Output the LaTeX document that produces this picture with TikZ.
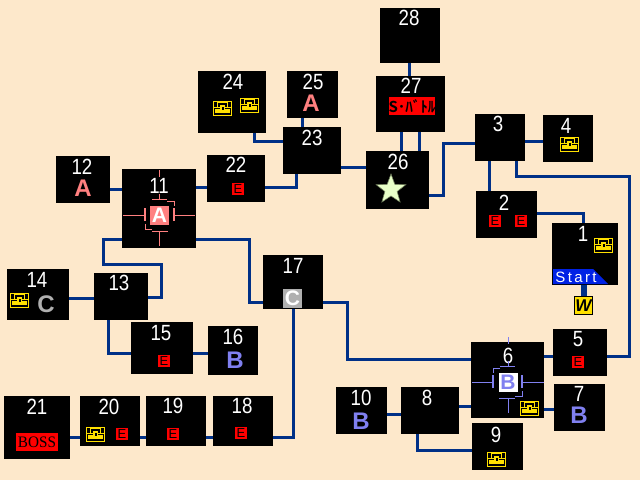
\documentclass[tikz,border=0pt]{standalone}
\usepackage{fontspec}
\usetikzlibrary{shapes.geometric}
\setmainfont{Liberation Sans}
\newfontfamily\numf[FakeStretch=0.85]{Liberation Sans}
\newfontfamily\startf[LetterSpace=16]{Liberation Sans}
\newfontfamily\bossf[FakeStretch=0.95]{Liberation Serif}
\newfontfamily\cjkf{Noto Sans CJK JP Bold}
\definecolor{bg}{HTML}{FDE8CB}
\definecolor{link}{HTML}{003087}
\definecolor{chesty}{HTML}{FFE000}
\definecolor{pinkA}{HTML}{FF8080}
\definecolor{blueB}{HTML}{8080F0}
\definecolor{grayC}{HTML}{B0B0B0}
\definecolor{redE}{HTML}{FF0000}
\tikzset{
  room/.style={fill=black,inner sep=0pt,outer sep=0pt},
  numlabel/.style={text=white,inner sep=0pt,font=\numf\fontsize{22}{22}\selectfont},
  conn/.style={draw=link,line width=3.6pt,line cap=butt,line join=miter},
  eicon/.style={fill=redE,text=black,inner sep=0pt,minimum size=12pt,font=\fontsize{13}{13}\selectfont},
  letter/.style={inner sep=0pt,font=\bfseries\fontsize{24}{24}\selectfont},
  decor/.style={line width=1pt},
  decorbar/.style={line width=2pt},
  bossicon/.style={minimum size=19pt,inner sep=0pt,font=\bfseries\fontsize{21}{21}\selectfont},
}
\newcommand{\room}[5]{% name x0 y0 x1 y1
  \pgfmathsetmacro{\cxv}{(#2+#4)/2}\pgfmathsetmacro{\cyv}{(#3+#5)/2}
  \pgfmathsetmacro{\wv}{#4-#2}\pgfmathsetmacro{\hv}{#5-#3}
  \node[room,minimum width=\wv pt,minimum height=\hv pt] (#1) at (\cxv,\cyv) {};
}
\newcommand{\chest}[2]{% x y
  \begin{scope}[shift={(#1+0.5,#2+0.5)}]
    \fill[chesty] (-9.5,-7.5) rectangle (9.5,7.5);
    \fill[black] (-8.5,-6.5) rectangle (8.5,6.5);
    \fill[chesty] (-5.5,-6.5) rectangle (-4.5,-0.5);
    \fill[chesty] (4.5,-6.5) rectangle (5.5,-0.5);
    \fill[chesty] (-4.5,-6.5) rectangle (4.5,-5.5);
    \fill[chesty] (-8.5,-1.5) rectangle (8.5,-0.5);
    \fill[chesty] (-2.5,-3.5) rectangle (2.5,1.5);
    \fill[black] (-1,-2) rectangle (1,0);
    \fill[chesty] (-7.5,0.5) rectangle (7.5,4.5);
    \fill[chesty] (-2.5,0.5) rectangle (2.5,1.5);
    \fill[black] (-1,0.5) rectangle (1,1);
  \end{scope}
}
\newcommand{\bossdecor}[4]{% x y colour xflip
  \begin{scope}[shift={(#1,#2)},xscale=#4]
    \draw[#3,decor] (0,-45) -- (0,-38) (0,-21) -- (0,-16) (-7,-15.5) -- (8,-15.5);
    \draw[#3,decor] (-36,0) -- (-14,0) (15,0) -- (36,0);
    \draw[#3,decorbar] (-14,-7) -- (-14,6) (15,-7) -- (15,6);
    \draw[#3,decor] (-7,16) -- (9,16) (0,16) -- (0,31);
    \draw[#3,decor] (8,-14) -- (15,-14) -- (15,-9) (-14,9) -- (-14,14) -- (-7,14);
  \end{scope}
}
\begin{document}
\begin{tikzpicture}[x=1pt,y=-1pt]
\useasboundingbox (0,0) rectangle (640,480);
\fill[bg] (0,0) rectangle (640,480);

% rooms
\room{r1}{552}{223}{618}{285}
\room{r2}{476}{191}{537}{238}
\room{r3}{475}{114}{525}{161}
\room{r4}{543}{115}{593}{162}
\room{r5}{553}{329}{607}{376}
\room{r6}{471}{342}{544}{418}
\room{r7}{554}{384}{605}{431}
\room{r8}{401}{387}{459}{434}
\room{r9}{472}{423}{523}{470}
\room{r10}{336}{387}{387}{434}
\room{r11}{122}{169}{196}{248}
\room{r12}{56}{156}{110}{203}
\room{r13}{94}{273}{148}{320}
\room{r14}{7}{269}{69}{320}
\room{r15}{131}{322}{193}{374}
\room{r16}{208}{326}{258}{375}
\room{r17}{263}{255}{323}{309}
\room{r18}{213}{396}{273}{446}
\room{r19}{146}{396}{206}{446}
\room{r20}{80}{396}{140}{446}
\room{r21}{4}{396}{70}{459}
\room{r22}{207}{155}{265}{202}
\room{r23}{283}{127}{341}{174}
\room{r24}{198}{71}{266}{133}
\room{r25}{287}{71}{338}{118}
\room{r26}{366}{151}{429}{209}
\room{r27}{376}{76}{445}{132}
\room{r28}{380}{8}{440}{63}

% W marker
\node[fill=chesty,draw=black,line width=1pt,minimum size=18pt,inner sep=0pt,font=\bfseries\itshape\fontsize{17}{17}\selectfont] (w) at (583.5,305.5) {W};

% connectors
\draw[conn] (r12.east |- 0,189.5) -- (r11.west |- 0,189.5);
\draw[conn] (r11.east |- 0,187.5) -- (r22.west |- 0,187.5);
\draw[conn] (r11.west |- 0,239.5) -- (103.5,239.5) -- (103.5,264.5) -- (161.5,264.5) -- (161.5,297.5) -- (r13.east |- 0,297.5);
\draw[conn] (r11.east |- 0,239.5) -- (249.5,239.5) -- (249.5,302.5) -- (r17.west |- 0,302.5);
\draw[conn] (r14.east |- 0,298.5) -- (r13.west |- 0,298.5);
\draw[conn] (r13.south -| 108.5,0) -- (108.5,353.5) -- (r15.west |- 0,353.5);
\draw[conn] (r15.east |- 0,353.5) -- (r16.west |- 0,353.5);
\draw[conn] (r17.east |- 0,302.5) -- (347.5,302.5) -- (347.5,359.5) -- (r6.west |- 0,359.5);
\draw[conn] (r17.south -| 293.5,0) -- (293.5,437.5) -- (r18.east |- 0,437.5);
\draw[conn] (r18.west |- 0,437.5) -- (r19.east |- 0,437.5);
\draw[conn] (r19.west |- 0,437.5) -- (r20.east |- 0,437.5);
\draw[conn] (r20.west |- 0,437.5) -- (r21.east |- 0,437.5);
\draw[conn] (r6.east |- 0,356.5) -- (r5.west |- 0,356.5);
\draw[conn] (r5.east |- 0,356.5) -- (629.5,356.5) -- (629.5,176.5) -- (516.5,176.5) -- (r3.south -| 516.5,0);
\draw[conn] (r6.east |- 0,409.5) -- (r7.west |- 0,409.5);
\draw[conn] (r8.east |- 0,406.5) -- (r6.west |- 0,406.5);
\draw[conn] (r10.east |- 0,414.5) -- (r8.west |- 0,414.5);
\draw[conn] (r8.south -| 417.5,0) -- (417.5,450.5) -- (r9.west |- 0,450.5);
\draw[conn] (r2.north -| 489.5,0) -- (r3.south -| 489.5,0);
\draw[conn] (r2.east |- 0,213.5) -- (583.5,213.5) -- (r1.north -| 583.5,0);
\draw[conn,line width=6pt] (r1.south -| 584,0) -- (w.north -| 584,0);
\draw[conn] (r3.west |- 0,143.5) -- (443.5,143.5) -- (443.5,195.5) -- (r26.east |- 0,195.5);
\draw[conn] (r3.east |- 0,141.5) -- (r4.west |- 0,141.5);
\draw[conn] (r27.south -| 401.5,0) -- (r26.north -| 401.5,0);
\draw[conn] (r27.south -| 419.5,0) -- (r26.north -| 419.5,0);
\draw[conn] (r27.north -| 409.5,0) -- (r28.south -| 409.5,0);
\draw[conn] (r23.east |- 0,167.5) -- (r26.west |- 0,167.5);
\draw[conn] (r23.south -| 296.5,0) -- (296.5,187.5) -- (r22.east |- 0,187.5);
\draw[conn] (r23.west |- 0,141.5) -- (254.5,141.5) -- (r24.south -| 254.5,0);
\draw[conn] (r23.north -| 302.5,0) -- (r25.south -| 302.5,0);

% numbers
\node[numlabel] (t1) at (583,234) {1};
\node[numlabel] (t2) at (504,203) {2};
\node[numlabel] (t3) at (498,124) {3};
\node[numlabel] (t4) at (566,126) {4};
\node[numlabel] (t5) at (578,339) {5};
\node[numlabel] (t6) at (508,356) {6};
\node[numlabel] (t7) at (579,394) {7};
\node[numlabel] (t8) at (427,398) {8};
\node[numlabel] (t9) at (496,435) {9};
\node[numlabel] (t10) at (361,398) {10};
\node[numlabel] (t11) at (159,186) {11};
\node[numlabel] (t12) at (82,167) {12};
\node[numlabel] (t13) at (119,283) {13};
\node[numlabel] (t14) at (37,280) {14};
\node[numlabel] (t15) at (161,333) {15};
\node[numlabel] (t16) at (233,337) {16};
\node[numlabel] (t17) at (293,266) {17};
\node[numlabel] (t18) at (242,406) {18};
\node[numlabel] (t19) at (173,406) {19};
\node[numlabel] (t20) at (109,407) {20};
\node[numlabel] (t21) at (37,407) {21};
\node[numlabel] (t22) at (236,165) {22};
\node[numlabel] (t23) at (312,138) {23};
\node[numlabel] (t24) at (233,82) {24};
\node[numlabel] (t25) at (313,82) {25};
\node[numlabel] (t26) at (398,162) {26};
\node[numlabel] (t27) at (411,86) {27};
\node[numlabel] (t28) at (409,18) {28};

% E icons
\node[eicon] (e22) at (238,189) {E};
\node[eicon] (e2a) at (495,221) {E};
\node[eicon] (e2b) at (521,221) {E};
\node[eicon] (e5) at (578,362) {E};
\node[eicon] (e20) at (122,434) {E};
\node[eicon] (e19) at (173,434) {E};
\node[eicon] (e18) at (241,433) {E};
\node[eicon] (e15) at (164,361) {E};

% chests
\chest{19}{300}
\chest{222}{108}
\chest{249}{105}
\chest{569}{144}
\chest{603}{245}
\chest{529}{408}
\chest{496}{459}
\chest{95}{434}

% letters
\node[letter,text=pinkA] (a12) at (83,188) {A};
\node[letter,text=pinkA] (a25) at (311,103) {A};
\node[letter,text=grayC] (c14) at (46,304) {C};
\node[letter,text=blueB] (b16) at (235,360) {B};
\node[letter,text=blueB] (b10) at (361,421) {B};
\node[letter,text=blueB] (b7) at (579,415) {B};

% area bosses
\bossdecor{159}{215}{pinkA}{1}
\node[bossicon,fill=pinkA,text=white] (a11) at (159.5,215.5) {A};
\bossdecor{508}{382}{blueB}{-1}
\node[bossicon,fill=white,text=blueB] (b6) at (508,382) {B};
\node[bossicon,fill=grayC,text=white] (c17) at (292.5,298.5) {C};

% boss
\node[fill=redE,text=black,minimum width=42pt,minimum height=18pt,inner sep=0pt,font=\bossf\fontsize{16}{16}\selectfont] (boss) at (37,442) {BOSS};
\node[fill=redE,text=black,minimum width=44pt,minimum height=18pt,inner sep=0pt,font=\cjkf\fontsize{15}{15}\selectfont] (sbattle) at (412,106) {S･ﾊﾞﾄﾙ};

% star
\node[star,star points=5,star point ratio=2.4,minimum size=31pt,inner sep=0pt,fill={rgb,255:red,232;green,255;blue,200},draw={rgb,255:red,110;green,125;blue,90},line width=.6pt] (star) at (391,189.5) {};

% start banner
\fill[blue!85!cyan!90!black] (553,269) -- (593,269) -- (608,284) -- (553,284) -- cycle;
\node[text=white,inner sep=0pt,font=\startf\fontsize{15}{15}\selectfont] (start) at (576,277) {Start};
\end{tikzpicture}
\end{document}
